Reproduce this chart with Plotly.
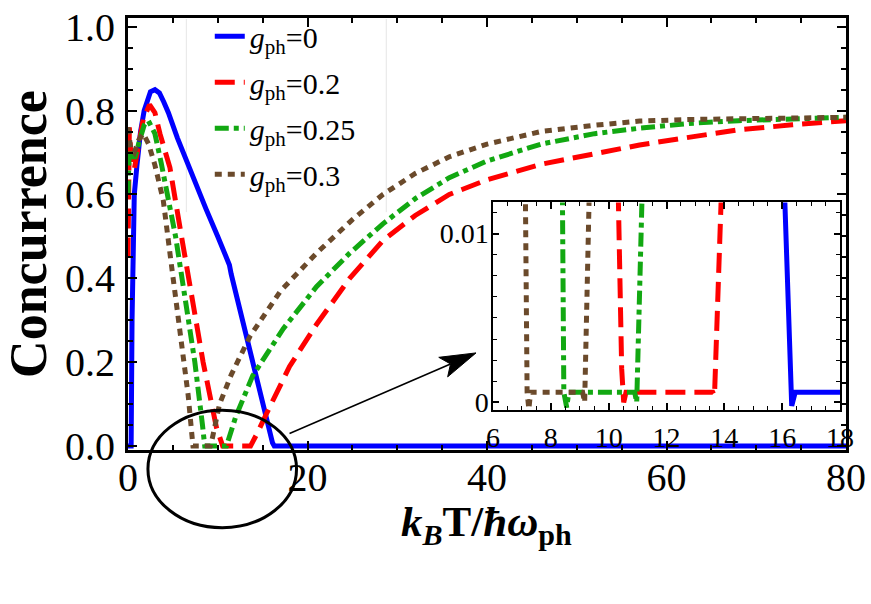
import math
import plotly.graph_objects as go

FONT = "Times New Roman, Liberation Serif, serif"

# ---------------- data ----------------
legend_names = ["<i>g</i><sub>ph</sub>=0", "<i>g</i><sub>ph</sub>=0.2",
                "<i>g</i><sub>ph</sub>=0.25", "<i>g</i><sub>ph</sub>=0.3"]

x_g0 = [0, 0.35, 0.45, 0.55, 0.7, 1.0, 1.4, 1.8, 2.3, 2.5, 3.0, 3.5, 4.0, 4.5, 5.5, 6.5,
        7.5, 8.7, 10.0, 11.3, 11.5, 12.5, 13.4, 14.5, 15.5, 16.1, 16.3, 20, 30, 40, 50, 60, 70, 80]
c_g0 = [0, 0, 0.3, 0.5, 0.6, 0.67, 0.75, 0.8, 0.835, 0.845, 0.85, 0.842, 0.82, 0.795, 0.735, 0.68,
        0.628, 0.565, 0.5, 0.432, 0.41, 0.32, 0.238, 0.14, 0.06, 0.008, 0, 0, 0, 0, 0, 0, 0, 0]

x_g02 = [0, 0.15, 0.35, 0.7, 1.2, 1.7, 2.4, 3.0, 3.56, 4.1, 4.67, 5.8, 7.07, 8.37, 9.85, 10.3, 10.55,
         13.65, 13.9, 14.5, 15.4, 18, 21, 24.7, 28.4, 32, 35.8, 40, 46, 52, 57, 63, 68, 74, 80]
c_g02 = [0.45, 0.76, 0.68, 0.66, 0.72, 0.78, 0.814, 0.795, 0.745, 0.71, 0.664, 0.52, 0.354, 0.2, 0.045, 0.01, 0,
         0, 0.012, 0.035, 0.076, 0.19, 0.29, 0.40, 0.49, 0.55, 0.60, 0.635, 0.672, 0.698, 0.718, 0.738, 0.754, 0.766, 0.776]

x_g025 = [0, 0.15, 0.4, 0.8, 1.3, 1.8, 2.26, 3.0, 3.7, 4.5, 5.3, 6.35, 7.45, 8.3, 8.55,
          10.97, 11.14, 12, 13.9, 17.3, 21, 24.7, 28.4, 32, 35.8, 40, 46, 52, 57, 63, 68, 74, 80]
c_g025 = [0.6, 0.72, 0.69, 0.69, 0.73, 0.765, 0.776, 0.745, 0.675, 0.59, 0.5, 0.354, 0.2, 0.05, 0,
          0, 0.012, 0.07, 0.168, 0.28, 0.38, 0.46, 0.53, 0.59, 0.64, 0.68, 0.72, 0.745, 0.758, 0.77, 0.776, 0.781, 0.784]

x_g03 = [0, 0.3, 0.7, 1.2, 1.7, 2.3, 3.0, 3.93, 4.85, 5.78, 6.7, 7.24,
         9.17, 9.33, 10.2, 11.5, 13.6, 17, 21, 25, 28.4, 32, 35.8, 40, 46, 52, 57, 63, 70, 80]
c_g03 = [0.76, 0.71, 0.70, 0.73, 0.745, 0.72, 0.67, 0.586, 0.43, 0.277, 0.122, 0,
         0, 0.012, 0.10, 0.17, 0.262, 0.37, 0.46, 0.54, 0.60, 0.65, 0.69, 0.72, 0.75, 0.765, 0.775, 0.779, 0.782, 0.784]

# inset (zoom of the region near zero)
ix_g0 = [16.08, 16.28, 16.33, 16.45, 18.0]
ic_g0 = [0.0125, 0.0003, -0.0002, 0.0006, 0.0006]
ix_g02 = [10.33, 10.45, 10.52, 10.6, 13.6, 13.66, 13.9]
ic_g02 = [0.0125, 0.002, 0.0, 0.0006, 0.0006, 0.0004, 0.0125]
ix_g025 = [8.40, 8.45, 8.55, 8.62, 10.9, 10.97, 11.16]
ic_g025 = [0.0125, 0.0006, -0.0003, 0.0006, 0.0006, 0.0, 0.0125]
ix_g03 = [7.12, 7.18, 7.24, 7.3, 9.1, 9.17, 9.33]
ic_g03 = [0.0125, 0.0006, -0.0004, 0.0006, 0.0006, 0.0, 0.0125]

main_xticks = [0, 20, 40, 60, 80]
main_yticks = [0, 0.2, 0.4, 0.6, 0.8, 1.0]
main_yticktext = ["0.0", "0.2", "0.4", "0.6", "0.8", "1.0"]
inset_xticks = [6, 8, 10, 12, 14, 16, 18]
inset_yticks = [0, 0.01]
inset_yticktext = ["0", "0.01"]
x_title = "<b><i>k</i><sub><i>B</i></sub>T/<i>ħω</i><sub>ph</sub></b>"
y_title = "<b>Concurrence</b>"

# ---------------- styles ----------------
colors = ["#0000ff", "#ff0000", "#12a812", "#6b4a2b"]
dashes = ["solid", "20px,9px", "14px,5px,5px,5px", "7px,6px"]
LW = 5

# layout geometry (pixels of the 871x604 page)
W, H = 871, 604
L, R, T, B = 128, 848, 5, 450


def pxx(p):
    return (p - L) / (R - L)


def pyy(p):
    return (B - p) / (B - T)


fig = go.Figure()
main_series = [(x_g0, c_g0), (x_g02, c_g02), (x_g025, c_g025), (x_g03, c_g03)]
inset_series = [(ix_g0, ic_g0), (ix_g02, ic_g02), (ix_g025, ic_g025), (ix_g03, ic_g03)]

for i, (xs, ys) in enumerate(main_series):
    fig.add_trace(go.Scatter(x=xs, y=ys, mode="lines", name=legend_names[i],
                             line=dict(color=colors[i], width=LW, dash=dashes[i]),
                             legendgroup=str(i), xaxis="x", yaxis="y"))
for i, (xs, ys) in enumerate(inset_series):
    fig.add_trace(go.Scatter(x=xs, y=ys, mode="lines", showlegend=False,
                             line=dict(color=colors[i], width=LW, dash=dashes[i]),
                             xaxis="x2", yaxis="y2"))

tickfont = dict(family=FONT, size=40, color="black")
inset_font = dict(family=FONT, size=28, color="black")

fig.update_layout(
    width=W, height=H,
    margin=dict(l=L, r=W - R, t=T, b=H - B),
    paper_bgcolor="white", plot_bgcolor="white",
    font=dict(family=FONT, color="black", size=20),
    showlegend=True,
    legend=dict(x=pxx(210), y=pyy(-3), xanchor="left", yanchor="top",
                bgcolor="rgba(0,0,0,0)", font=dict(family=FONT, size=30, color="black"),
                tracegroupgap=4, itemwidth=30),
    xaxis=dict(domain=[0, 1], range=[0, 80], tickvals=main_xticks,
               showline=True, linewidth=3, linecolor="black", mirror="allticks",
               ticks="inside", ticklen=9, tickwidth=2, tickcolor="black",
               minor=dict(dtick=5, ticklen=5, tickwidth=1.5, ticks="inside", tickcolor="black"),
               showgrid=False, zeroline=False, tickfont=tickfont, ticklabelstandoff=-10,
               ticklabeloverflow="allow"),
    yaxis=dict(domain=[0, 1], range=[-0.0093, 1.0208], tickvals=main_yticks, ticktext=main_yticktext,
               showline=True, linewidth=3, linecolor="black", mirror="allticks",
               ticks="inside", ticklen=9, tickwidth=2, tickcolor="black",
               minor=dict(dtick=0.05, tick0=0, ticklen=5, tickwidth=1.5, ticks="inside", tickcolor="black"),
               showgrid=False, zeroline=False, tickfont=tickfont, ticklabelstandoff=2,
               ticklabeloverflow="allow",
               title=dict(text=y_title, font=dict(family=FONT, size=52, color="black"),
                          standoff=12)),
    xaxis2=dict(domain=[pxx(494), pxx(842)], range=[6, 18], anchor="y2", tickvals=inset_xticks,
                showline=True, linewidth=1.5, linecolor="black", mirror="allticks",
                ticks="inside", ticklen=7, tickwidth=1.5, tickcolor="black",
                minor=dict(dtick=0.5, ticklen=4, tickwidth=1, ticks="inside", tickcolor="black"),
                showgrid=False, zeroline=False, tickfont=inset_font, ticklabelstandoff=1,
                ticklabeloverflow="allow"),
    yaxis2=dict(domain=[pyy(409), pyy(195)], range=[-0.00046, 0.01184], anchor="x2",
                tickvals=inset_yticks, ticktext=inset_yticktext,
                showline=True, linewidth=1.5, linecolor="black", mirror="allticks",
                ticks="inside", ticklen=6, tickwidth=1.5, tickcolor="black",
                minor=dict(dtick=0.00125, tick0=0, ticklen=4, tickwidth=1, ticks="inside", tickcolor="black"),
                showgrid=False, zeroline=False, tickfont=inset_font, ticklabelstandoff=-3,
                ticklabeloverflow="allow"),
)

# x-axis title placed as an annotation (sits close under the tick labels)
fig.add_annotation(text=x_title, xref="paper", yref="paper", x=pxx(487), y=pyy(527),
                   xanchor="center", yanchor="middle", showarrow=False,
                   font=dict(family=FONT, size=43, color="black"))

shapes = []
# faint legend box edges
for xp in (186.5, 387):
    shapes.append(dict(type="line", xref="paper", yref="paper", x0=pxx(xp), x1=pxx(xp),
                       y0=pyy(6), y1=pyy(205), line=dict(color="#e6e6e6", width=1), layer="below"))
# ellipse marking the zoomed region
shapes.append(dict(type="circle", xref="paper", yref="paper", x0=pxx(148), x1=pxx(297),
                   y0=pyy(530), y1=pyy(409), line=dict(color="black", width=3)))
# arrow to the inset
tail = (290, 433)
tip = (477, 350)
dx, dy = tip[0] - tail[0], tip[1] - tail[1]
n = math.hypot(dx, dy)
ux, uy = dx / n, dy / n
nx, ny = -uy, ux
hl, hw, notch = 36, 11, 28
bx, by = tip[0] - hl * ux, tip[1] - hl * uy
c1 = (bx + hw * nx, by + hw * ny)
c2 = (bx - hw * nx, by - hw * ny)
nb = (tip[0] - notch * ux, tip[1] - notch * uy)
shapes.append(dict(type="line", xref="paper", yref="paper", x0=pxx(tail[0]), y0=pyy(tail[1]),
                   x1=pxx(nb[0]), y1=pyy(nb[1]), line=dict(color="black", width=1.6)))
path = "M{},{} L{},{} L{},{} L{},{} Z".format(pxx(tip[0]), pyy(tip[1]), pxx(c1[0]), pyy(c1[1]),
                                              pxx(nb[0]), pyy(nb[1]), pxx(c2[0]), pyy(c2[1]))
shapes.append(dict(type="path", xref="paper", yref="paper", path=path,
                   fillcolor="black", line=dict(color="black", width=1)))
fig.update_layout(shapes=shapes)

fig.write_html("out.html")
